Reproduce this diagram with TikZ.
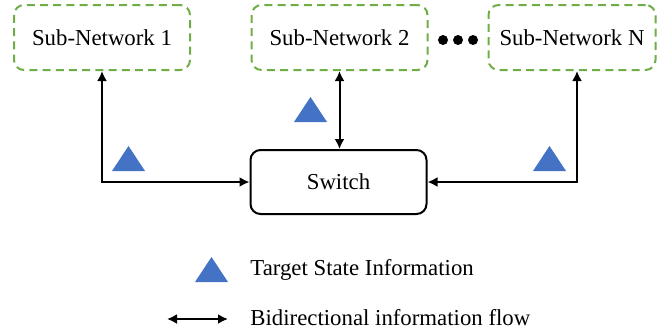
\documentclass[tikz,border=0pt]{standalone}
\usepackage{fontspec}
\setmainfont{Liberation Serif}
\usetikzlibrary{arrows.meta}
\definecolor{netgreen}{HTML}{70AD47}
\definecolor{infoblue}{HTML}{4472C4}
\tikzset{
  subnet/.style={draw=netgreen,line width=1pt,dash pattern=on 4pt off 2.6pt,rounded corners=5pt,minimum width=88pt,minimum height=32.5pt,inner sep=0pt},
  switchbox/.style={draw,line width=1pt,rounded corners=5pt,minimum width=88pt,minimum height=32pt,inner sep=0pt},
  flow/.style={line width=1pt,{Latex[length=5pt,width=5pt]}-{Latex[length=5pt,width=5pt]}}
}
\newcommand{\statetri}[2]{\fill[infoblue] (#1-16.5,#2+12.5) -- (#1+16.5,#2+12.5) -- (#1,#2-12.5) -- cycle;}
\begin{document}
\begin{tikzpicture}[x=0.5pt,y=-0.5pt,font=\fontsize{11.4}{13.7}\selectfont]
        \useasboundingbox (0,0) rectangle (657,333);
        \node[subnet] (sub1) at (102,37.5) {Sub-Network 1};
        \node[subnet] (sub2) at (339.5,37.5) {Sub-Network 2};
        \node[subnet,minimum width=83.5pt] (subN) at (572,37.5) {Sub-Network N};
        \foreach \x in {443,458,473} \fill (\x,40) circle (2.5pt);
        \node[switchbox] (switch) at (338.5,182) {Switch};
        \draw[flow] (sub1.south) |- (switch.west);
        \draw[flow] (sub2.south) -- (switch.north -| sub2.south);
        \draw[flow] ([xshift=2.5pt]subN.south) |- (switch.east);
        \statetri{128.5}{158.5}
        \statetri{310.5}{109.5}
        \statetri{549.5}{158.5}
        % legend
        \statetri{211.5}{269.5}
        \node[anchor=west,inner sep=0pt] (lgtri) at (250,270) {Target State Information};
        \coordinate (lgl) at (167,319);
        \coordinate (lgr) at (228,319);
        \draw[flow] (lgl) -- (lgr);
        \node[anchor=west,inner sep=0pt] (lgflow) at (250,318) {Bidirectional information flow};
\end{tikzpicture}
\end{document}
